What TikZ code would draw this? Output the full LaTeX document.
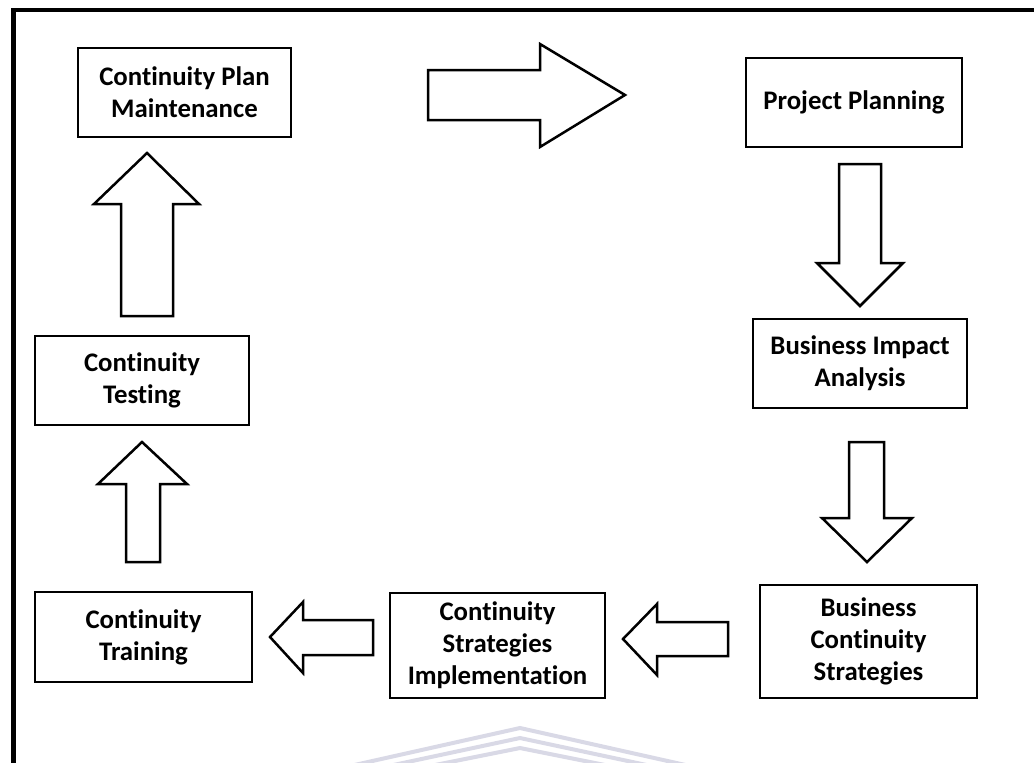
\documentclass[tikz,border=0pt]{standalone}
\usepackage{fontspec}
\setmainfont{Carlito}[Ligatures=NoCommon]
\usetikzlibrary{positioning}

\tikzset{
  stage/.style={draw, line width=1.35pt, align=center, inner sep=0pt,
    font=\fontsize{13.4}{16}\selectfont\bfseries},
  blockarrow/.style={draw, line width=1.25pt, line join=miter, fill=white},
  wmark/.style={draw=blue!20!gray!25, line width=2pt},
}

\begin{document}
\begin{tikzpicture}[x=0.5pt, y=-0.5pt]
        \useasboundingbox (0,0) rectangle (1034,762);
        % frame
        \draw[line width=2.25pt] (13.5,764) -- (13.5,10) -- (1036,10);
        % faint watermark
        \draw[wmark] (350,766) -- (520,728) -- (690,766);
        \draw[wmark] (370,770) -- (520,738) -- (670,770);
        \draw[wmark] (390,774) -- (520,748) -- (650,774);

        % stages
        \node[stage, minimum width=106.5pt, minimum height=44.5pt] (cpm) at (184.5,92.5) {Continuity Plan\\Maintenance};
        \node[stage, minimum width=108pt, minimum height=44.5pt] (pp) at (854,102.5) {Project Planning};
        \node[stage, minimum width=107pt, minimum height=44.5pt] (bia) at (860,363.5) {Business Impact\\Analysis};
        \node[stage, minimum width=108.5pt, minimum height=56.5pt] (bcs) at (868.5,641.5) {Business\\Continuity\\Strategies};
        \node[stage, minimum width=107.5pt, minimum height=52.5pt] (csi) at (497.5,645.5) {Continuity\\Strategies\\Implementation};
        \node[stage, minimum width=108.5pt, minimum height=45pt] (ct) at (143.5,637) {Continuity\\Training};
        \node[stage, minimum width=107pt, minimum height=44.5pt] (ctest) at (142,380.5) {Continuity\\Testing};

        % block arrows
        \draw[blockarrow] (428,70) -- (540,70) -- (540,44) -- (625,95) -- (540,147) -- (540,120) -- (428,120) -- cycle;
        \draw[blockarrow] (839,164) -- (881,164) -- (881,263) -- (903,263) -- (860,306) -- (817,263) -- (839,263) -- cycle;
        \draw[blockarrow] (849,442) -- (884,442) -- (884,518) -- (912,518) -- (867,562) -- (822,518) -- (849,518) -- cycle;
        \draw[blockarrow] (728,622) -- (657,622) -- (657,604) -- (623,639) -- (657,675) -- (657,656) -- (728,656) -- cycle;
        \draw[blockarrow] (373,620) -- (303,620) -- (303,602) -- (270,637) -- (303,673) -- (303,655) -- (373,655) -- cycle;
        \draw[blockarrow] (126,562) -- (126,484) -- (98,484) -- (142,442) -- (187,484) -- (160,484) -- (160,562) -- cycle;
        \draw[blockarrow] (121,316) -- (121,204) -- (94,204) -- (147,153) -- (199,204) -- (173,204) -- (173,316) -- cycle;
      \end{tikzpicture}
\end{document}
